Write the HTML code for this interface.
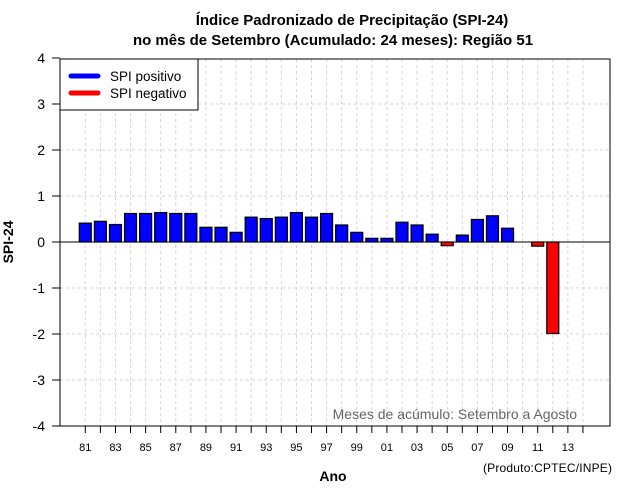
<!DOCTYPE html>
<html><head><meta charset="utf-8"><style>
body{margin:0;background:#fff}
svg{display:block;font-family:"Liberation Sans",sans-serif}
</style></head><body>
<svg id="chart" width="640" height="500" viewBox="0 0 640 500">
<text x="352" y="25" text-anchor="middle" font-size="15" font-weight="bold">Índice Padronizado de Precipitação (SPI-24)</text>
<text x="333" y="45" text-anchor="middle" font-size="15" font-weight="bold">no mês de Setembro (Acumulado: 24 meses): Região 51</text>
<g id="grid"></g>
<g id="bars"></g>
<line x1="52" y1="242" x2="610" y2="242" stroke="#000" stroke-width="1"/>
<rect x="60" y="59" width="550" height="367" fill="none" stroke="#000" stroke-width="1"/>
<g id="yaxis"></g>
<g id="xaxis"></g>
<text x="13" y="242" transform="rotate(-90 13 242)" text-anchor="middle" font-size="14" font-weight="bold">SPI-24</text>
<text x="333" y="481" text-anchor="middle" font-size="14" font-weight="bold">Ano</text>
<text x="612" y="472" text-anchor="end" font-size="12" textLength="129">(Produto:CPTEC/INPE)</text>
<text x="577" y="419" text-anchor="end" font-size="14" fill="#666">Meses de acúmulo: Setembro a Agosto</text>
<g>
<rect x="60" y="59" width="138" height="51" fill="#fff" stroke="#000"/>
<line x1="71" y1="76" x2="98" y2="76" stroke="#00f" stroke-width="5" stroke-linecap="round"/>
<text x="110" y="81" font-size="13.5">SPI positivo</text>
<line x1="71" y1="93" x2="98" y2="93" stroke="#f00" stroke-width="5" stroke-linecap="round"/>
<text x="110" y="98" font-size="13.5">SPI negativo</text>
</g>
</svg>
<script>
const years = [1981,1982,1983,1984,1985,1986,1987,1988,1989,1990,1991,1992,1993,1994,1995,1996,1997,1998,1999,2000,2001,2002,2003,2004,2005,2006,2007,2008,2009,2010,2011,2012];
const spiValues = [0.41,0.45,0.38,0.62,0.62,0.64,0.62,0.62,0.32,0.32,0.21,0.54,0.51,0.54,0.64,0.54,0.62,0.37,0.21,0.08,0.08,0.43,0.37,0.17,-0.08,0.15,0.49,0.57,0.30,null,-0.09,-1.99];
const yTicks = [4,3,2,1,0,-1,-2,-3,-4];
const tickYears = [1981,1982,1983,1984,1985,1986,1987,1988,1989,1990,1991,1992,1993,1994,1995,1996,1997,1998,1999,2000,2001,2002,2003,2004,2005,2006,2007,2008,2009,2010,2011,2012,2013,2014];
const labelYears = [1981,1983,1985,1987,1989,1991,1993,1995,1997,1999,2001,2003,2005,2007,2009,2011,2013];

const NS='http://www.w3.org/2000/svg';
const xs = yr => 85.3 + (yr-1981)*15.08;
const ys = v => 242 - v*46;
function mk(tag, attrs, parent){const e=document.createElementNS(NS,tag);for(const k in attrs)e.setAttribute(k,attrs[k]);parent.appendChild(e);return e;}
const grid=document.getElementById('grid'), bars=document.getElementById('bars'), ya=document.getElementById('yaxis'), xa=document.getElementById('xaxis');

yTicks.forEach(t=>{
  if(t!==0 && t!==4 && t!==-4){
    const g=mk('line',{x1:60,x2:610,y1:ys(t),y2:ys(t),stroke:'#d3d3d3','stroke-dasharray':'3,3'},grid);
    
    
  }
  const tk=mk('line',{x1:52,x2:60,y1:ys(t),y2:ys(t),stroke:'#000'},ya);
  
  
  const lb=mk('text',{x:45,y:ys(t)+5,'text-anchor':'end','font-size':14},ya);
  lb.textContent=String(t);
  
  
});
tickYears.forEach(yr=>{
  const g=mk('line',{x1:xs(yr),x2:xs(yr),y1:59,y2:426,stroke:'#d3d3d3','stroke-dasharray':'3,3'},grid);
  
  
  const tk=mk('line',{x1:xs(yr),x2:xs(yr),y1:426,y2:433,stroke:'#000'},xa);
  
  
});
labelYears.forEach(yr=>{
  const lb=mk('text',{x:xs(yr),y:451,'text-anchor':'middle','font-size':11},xa);
  lb.textContent=String(yr%100).padStart(2,'0');
  
  
});
years.forEach((yr,i)=>{
  const v=spiValues[i];
  if(v===null||v===undefined)return;
  const y0=ys(0), y1=ys(v);
  const r=mk('rect',{x:xs(yr)-6,y:Math.min(y0,y1),width:12,height:Math.max(Math.abs(y1-y0),1),fill:v>=0?'#00f':'#f00',stroke:'#000','stroke-width':1.2},bars);
  
  
});
</script>
</body></html>
